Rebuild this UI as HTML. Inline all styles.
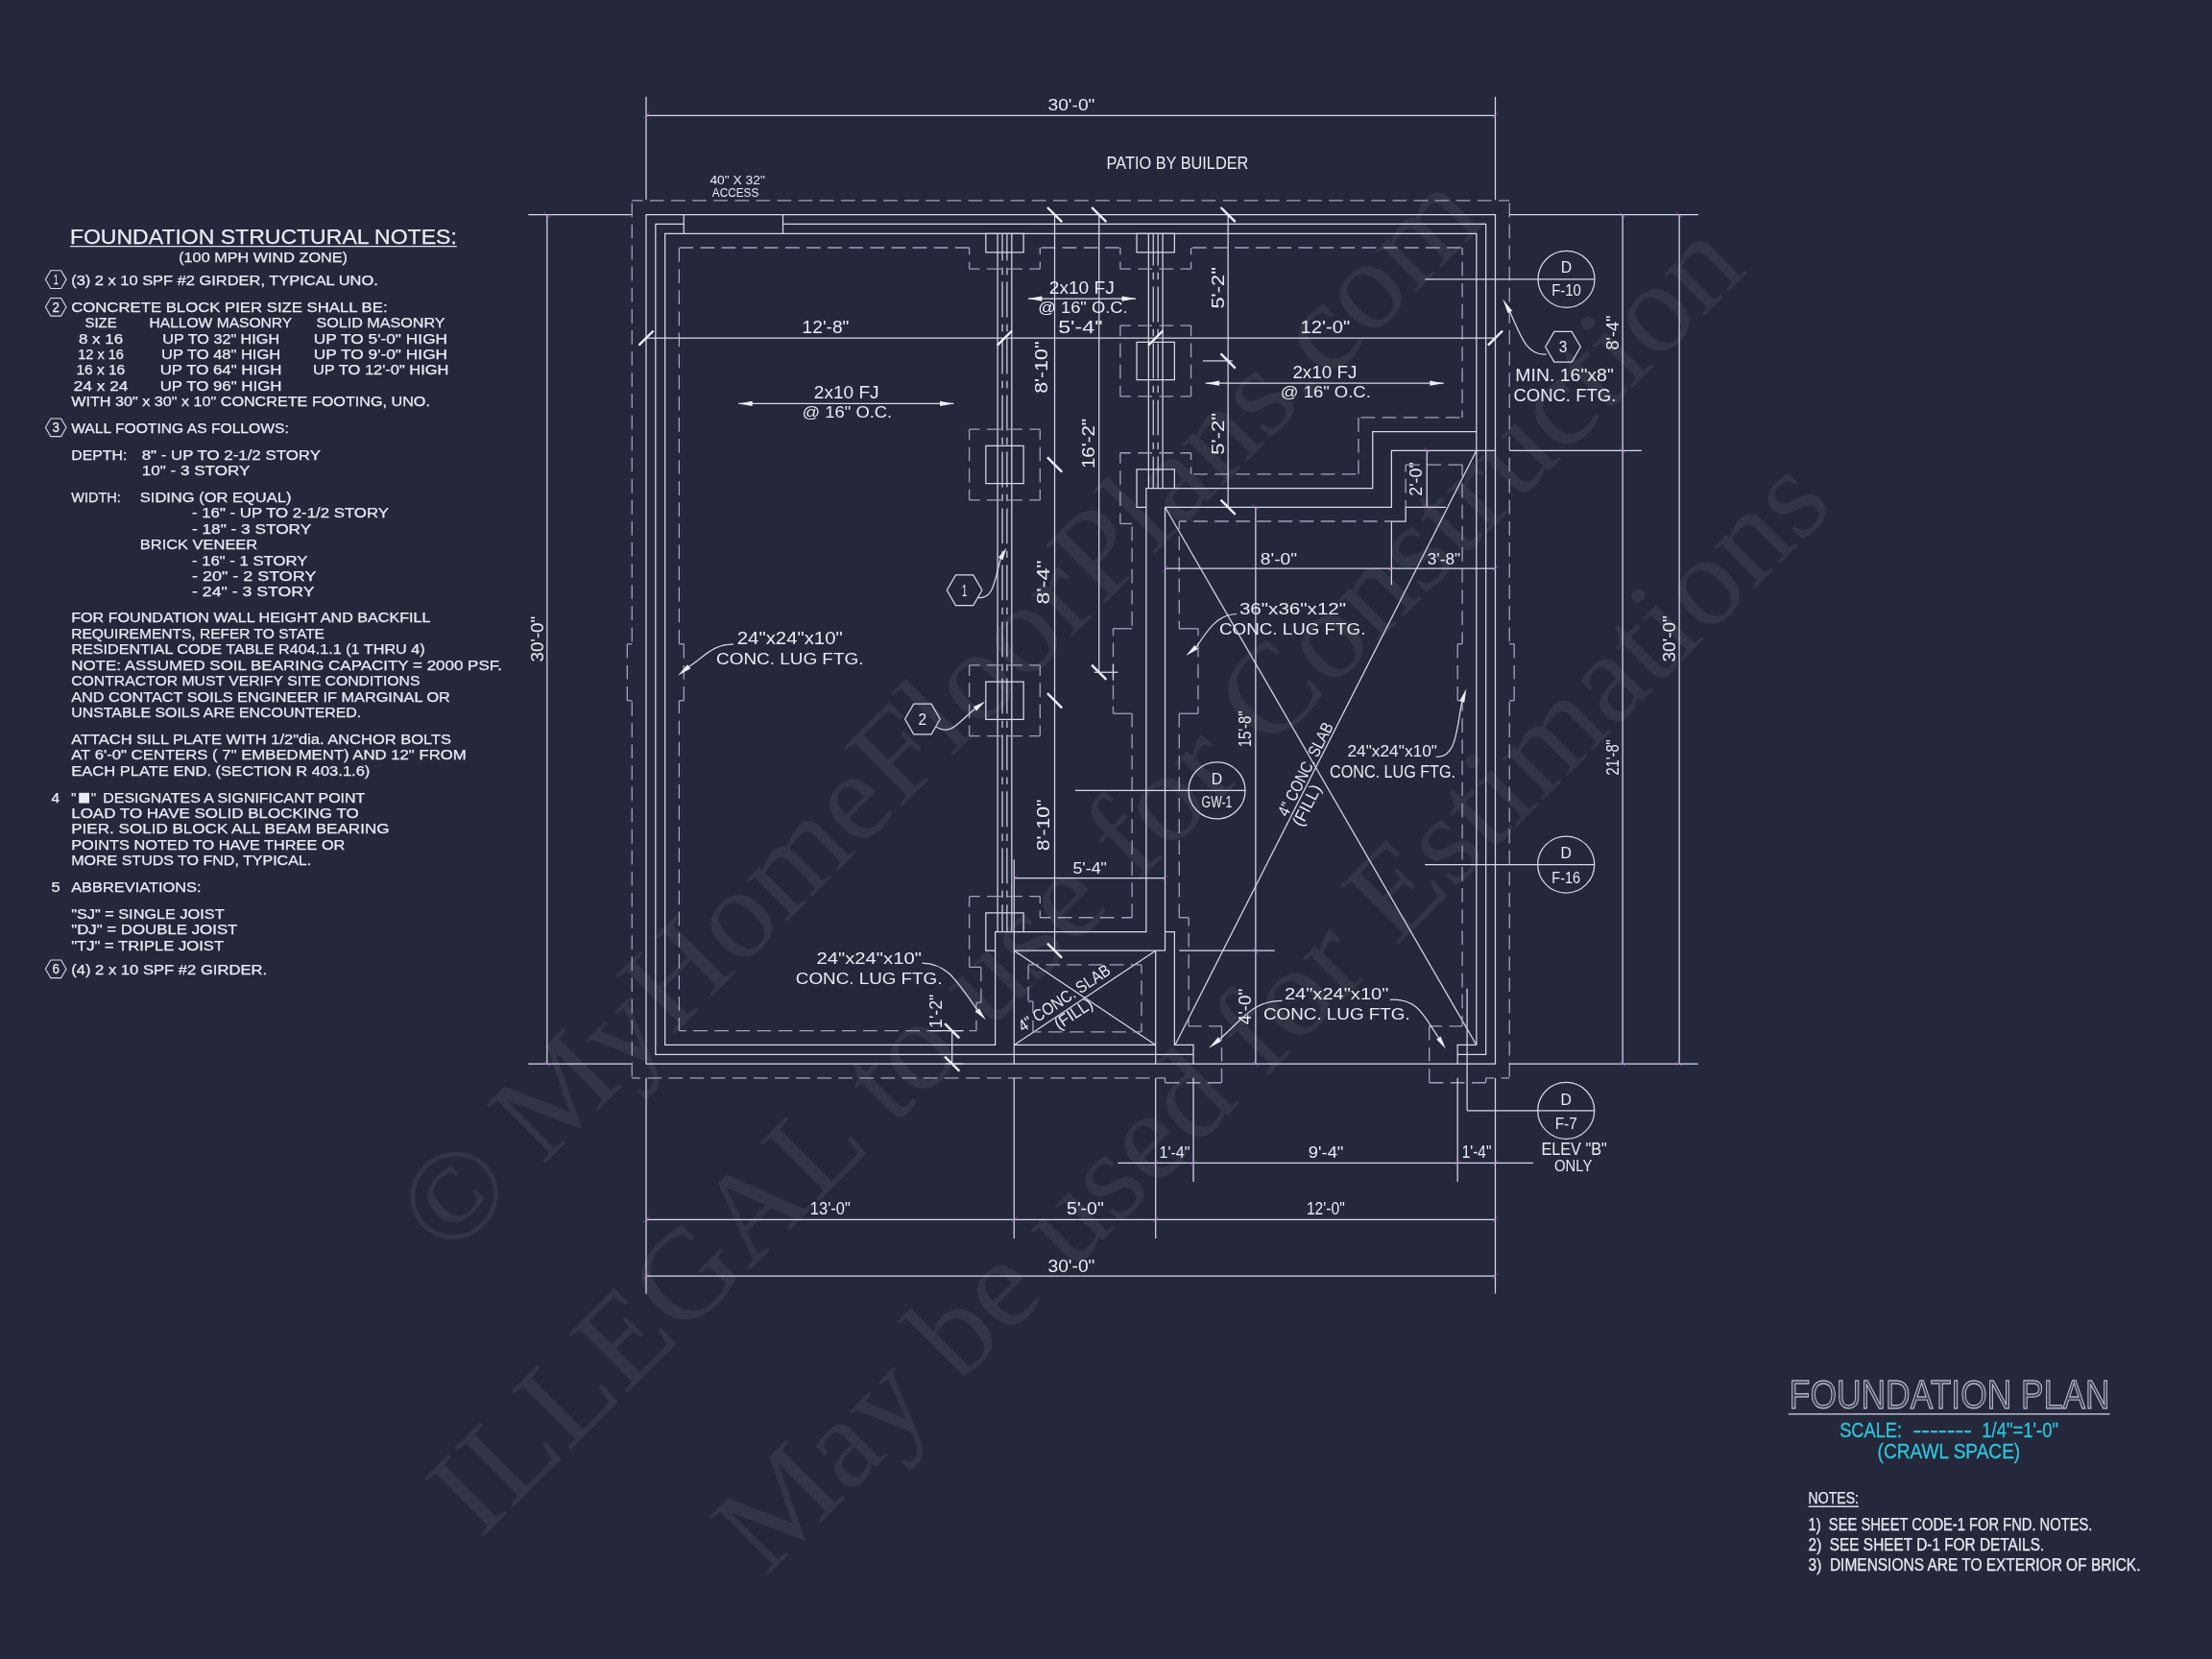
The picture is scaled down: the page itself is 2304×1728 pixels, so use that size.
<!DOCTYPE html>
<html><head><meta charset="utf-8"><title>Foundation Plan</title>
<style>
html,body{margin:0;padding:0;background:#24283a;}
body{width:2304px;height:1728px;overflow:hidden;font-family:"Liberation Sans",sans-serif;}
svg{display:block;will-change:transform}
svg text{font-family:"Liberation Sans",sans-serif;}
.s{fill:none;stroke:#d6d9ea;stroke-width:1.25}
.s2{fill:none;stroke:#d6d9ea;stroke-width:1.1}
.u{fill:none;stroke:#d6d9ea;stroke-width:1.4}
.d{fill:none;stroke:#9fa3ba;stroke-width:1.3;stroke-dasharray:14.7 7.4}
.ds{fill:none;stroke:#9fa3ba;stroke-width:1.3}
.c{fill:none;stroke:#d6d9ea;stroke-width:1.2;stroke-dasharray:36.86 7.37 7.37 7.37}
.c2{fill:none;stroke:#d6d9ea;stroke-width:1.2;stroke-dasharray:9 5 46 5 9 0}
.k{fill:none;stroke:#eef0f8;stroke-width:2.4}
.m{fill:none;stroke:#c23fc9;stroke-width:0.9;opacity:0.85}
.a{fill:#eef0f8;stroke:none}
.t{fill:#e9ebf5}
.n{fill:#e9ebf5;stroke:#e9ebf5;stroke-width:0.25}
.cy{fill:#2fc4dc;stroke:#2fc4dc;stroke-width:0.3}
.o{fill:rgba(214,217,234,0.18);stroke:#d6d9ea;stroke-width:0.9}
.w{fill:#323545;font-family:"Liberation Serif",serif;font-size:132px}
</style></head>
<body>
<svg width="2304" height="1728" viewBox="0 0 2304 1728">
<rect width="2304" height="1728" fill="#24283a"/>
<g><text class="w" transform="translate(1007.7 771.9) rotate(-45)" text-anchor="middle" textLength="1530.0" lengthAdjust="spacingAndGlyphs">© MyHomeFloorPlans.com</text>
<text class="w" transform="translate(1160.7 943.2) rotate(-45)" text-anchor="middle" textLength="1869.7" lengthAdjust="spacingAndGlyphs">ILLEGAL to use for Construction</text>
<text class="w" transform="translate(1354.5 1086.1) rotate(-45)" text-anchor="middle" textLength="1576.5" lengthAdjust="spacingAndGlyphs">May be used for Estimations</text></g>
<g>
<path class="s" d="M673.00 223.60 L1557.50 223.60 L1557.50 1108.10 L673.00 1108.10 Z"/>
<path class="s" d="M712.31 233.43 L682.83 233.43 L682.83 1098.27 L1243.01 1098.27"/>
<path class="s" d="M815.50 233.43 L1547.67 233.43 L1547.67 1098.27 L1518.19 1098.27"/>
<path class="s" d="M712.31 223.60 L712.31 243.26"/>
<path class="s" d="M815.50 223.60 L815.50 243.26"/>
<path class="s" d="M692.66 243.26 L1537.84 243.26 L1537.84 449.64 L1429.74 449.64 L1429.74 508.61 L1193.87 508.61 L1193.87 970.51 L1036.63 970.51 L1036.63 1088.44 L692.66 1088.44 Z"/>
<path class="s" d="M1537.84 449.64 L1537.84 1088.44"/>
<path class="s" d="M1557.50 469.29 L1449.39 469.29 L1449.39 528.26 L1213.53 528.26 L1213.53 990.17"/>
<path class="s" d="M1213.53 970.51 L1223.36 970.51 L1223.36 1088.44 L1243.01 1088.44 L1243.01 1108.10"/>
<path class="s" d="M1505.90 528.26 L1464.14 528.26 L1464.14 543.00 L1449.39 543.00 L1449.39 609.34"/>
<path class="s" d="M1537.84 1088.44 L1518.19 1088.44 L1518.19 1108.10"/>
<path class="s" d="M1213.53 528.26 L1537.84 1088.44"/>
<path class="s" d="M1537.84 469.29 L1224.34 1087.71"/>
<path class="s" d="M1056.28 895.33 L1056.28 1108.10"/>
<path class="s" d="M1056.28 990.17 L1213.53 990.17"/>
<path class="s" d="M1203.70 990.17 L1203.70 1108.10"/>
<path class="s" d="M1056.28 1088.44 L1203.70 1088.44"/>
<path class="s" d="M1056.28 990.17 L1203.70 1088.44"/>
<path class="s" d="M1056.28 1088.44 L1203.70 990.17"/>
<path class="s" d="M1039.08 243.26 L1039.08 970.51"/>
<path class="s" d="M1053.83 243.26 L1053.83 970.51"/>
<path class="c" stroke-dashoffset="8.62" d="M1044.00 243.26 L1044.00 970.51"/>
<path class="c" stroke-dashoffset="8.62" d="M1048.91 243.26 L1048.91 970.51"/>
<path class="s" d="M1196.33 243.26 L1196.33 508.61"/>
<path class="s" d="M1211.07 243.26 L1211.07 508.61"/>
<path class="c" stroke-dashoffset="3.70" d="M1201.24 243.26 L1201.24 508.61"/>
<path class="c" stroke-dashoffset="3.70" d="M1206.16 243.26 L1206.16 508.61"/>
<path class="s" d="M1026.80 243.26 L1066.11 243.26 L1066.11 262.91 L1026.80 262.91 Z"/>
<path class="s" d="M1184.04 243.26 L1223.36 243.26 L1223.36 262.91 L1184.04 262.91 Z"/>
<path class="s" d="M1026.80 464.38 L1066.11 464.38 L1066.11 503.69 L1026.80 503.69 Z"/>
<path class="s" d="M1026.80 710.07 L1066.11 710.07 L1066.11 749.39 L1026.80 749.39 Z"/>
<path class="s" d="M1184.04 356.27 L1223.36 356.27 L1223.36 395.59 L1184.04 395.59 Z"/>
<path class="s" d="M1066.11 970.51 L1066.11 950.86 L1026.80 950.86 L1026.80 990.17 L1036.63 990.17"/>
<path class="s" d="M1223.36 508.61 L1223.36 488.95 L1184.04 488.95 L1184.04 528.26 L1193.87 528.26"/>
<path class="d" stroke-dashoffset="3.65" d="M1009.60 447.18 L1083.31 447.18"/>
<path class="d" stroke-dashoffset="3.65" d="M1083.31 447.18 L1083.31 520.89"/>
<path class="d" stroke-dashoffset="3.65" d="M1083.31 520.89 L1009.60 520.89"/>
<path class="d" stroke-dashoffset="3.65" d="M1009.60 520.89 L1009.60 447.18"/>
<path class="d" stroke-dashoffset="3.65" d="M1009.60 692.88 L1083.31 692.88"/>
<path class="d" stroke-dashoffset="3.65" d="M1083.31 692.88 L1083.31 766.58"/>
<path class="d" stroke-dashoffset="3.65" d="M1083.31 766.58 L1009.60 766.58"/>
<path class="d" stroke-dashoffset="3.65" d="M1009.60 766.58 L1009.60 692.88"/>
<path class="d" stroke-dashoffset="3.65" d="M1166.85 339.08 L1240.55 339.08"/>
<path class="d" stroke-dashoffset="3.65" d="M1240.55 339.08 L1240.55 412.78"/>
<path class="d" stroke-dashoffset="3.65" d="M1240.55 412.78 L1166.85 412.78"/>
<path class="d" stroke-dashoffset="3.65" d="M1166.85 412.78 L1166.85 339.08"/>
<path class="d" stroke-dashoffset="-0.10" d="M707.40 258.00 L1009.60 258.00"/>
<path class="d" stroke-dashoffset="7.34" d="M1009.60 258.00 L1009.60 280.11"/>
<path class="d" stroke-dashoffset="3.65" d="M1009.60 280.11 L1083.31 280.11"/>
<path class="d" stroke-dashoffset="7.34" d="M1083.31 280.11 L1083.31 258.00"/>
<path class="d" stroke-dashoffset="-1.27" d="M1083.31 258.00 L1166.85 258.00"/>
<path class="d" stroke-dashoffset="7.34" d="M1166.85 258.00 L1166.85 280.11"/>
<path class="d" stroke-dashoffset="3.65" d="M1166.85 280.11 L1240.55 280.11"/>
<path class="d" stroke-dashoffset="7.34" d="M1240.55 280.11 L1240.55 258.00"/>
<path class="d" stroke-dashoffset="-1.32" d="M1240.55 258.00 L1523.10 258.00"/>
<path class="d" stroke-dashoffset="7.30" d="M1523.10 258.00 L1523.10 434.90"/>
<path class="d" stroke-dashoffset="-2.50" d="M1523.10 434.90 L1415.00 434.90"/>
<path class="d" stroke-dashoffset="-0.03" d="M1415.00 434.90 L1415.00 493.86"/>
<path class="d" stroke-dashoffset="-2.53" d="M1415.00 493.86 L1240.55 493.86"/>
<path class="d" stroke-dashoffset="7.34" d="M1240.55 493.86 L1240.55 471.75"/>
<path class="d" stroke-dashoffset="3.65" d="M1240.55 471.75 L1166.85 471.75"/>
<path class="d" stroke-dashoffset="3.64" d="M1166.85 471.75 L1166.85 545.46"/>
<path class="ds" d="M1166.85 545.46 L1179.13 545.46"/>
<path class="d" stroke-dashoffset="-3.11" d="M1179.13 545.46 L1179.13 654.79"/>
<path class="ds" d="M1179.13 654.79 L1159.47 654.79"/>
<path class="d" stroke-dashoffset="7.32" d="M1159.47 654.79 L1159.47 743.24"/>
<path class="ds" d="M1159.47 743.24 L1179.13 743.24"/>
<path class="d" stroke-dashoffset="0.54" d="M1179.13 743.24 L1179.13 955.77"/>
<path class="d" stroke-dashoffset="3.64" d="M1179.13 955.77 L1083.31 955.77"/>
<path class="d" stroke-dashoffset="7.34" d="M1083.31 955.77 L1083.31 933.66"/>
<path class="d" stroke-dashoffset="3.65" d="M1083.31 933.66 L1009.60 933.66"/>
<path class="d" stroke-dashoffset="3.64" d="M1009.60 933.66 L1009.60 1007.37"/>
<path class="ds" d="M1009.60 1007.37 L1021.89 1007.37"/>
<path class="d" stroke-dashoffset="-0.03" d="M1021.89 1007.37 L1021.89 1044.22"/>
<path class="ds" d="M1021.89 1044.22 L1016.97 1044.22"/>
<path class="d" stroke-dashoffset="3.66" d="M1016.97 1044.22 L1016.97 1073.70"/>
<path class="d" stroke-dashoffset="7.26" d="M1016.97 1073.70 L707.40 1073.70"/>
<path class="d" stroke-dashoffset="1.11" d="M707.40 1073.70 L707.40 729.73"/>
<path class="ds" d="M707.40 729.73 L712.31 729.73"/>
<path class="d" stroke-dashoffset="-0.04" d="M712.31 729.73 L712.31 670.76"/>
<path class="ds" d="M712.31 670.76 L707.40 670.76"/>
<path class="d" stroke-dashoffset="-0.13" d="M707.40 670.76 L707.40 258.00"/>
<path class="d" stroke-dashoffset="5.96" d="M1213.53 1122.84 L658.26 1122.84"/>
<path class="d" stroke-dashoffset="-1.35" d="M658.26 1122.84 L658.26 729.73"/>
<path class="ds" d="M658.26 729.73 L653.34 729.73"/>
<path class="d" stroke-dashoffset="-0.04" d="M653.34 729.73 L653.34 670.76"/>
<path class="ds" d="M653.34 670.76 L658.26 670.76"/>
<path class="d" stroke-dashoffset="-2.60" d="M658.26 670.76 L658.26 208.86"/>
<path class="d" stroke-dashoffset="3.41" d="M658.26 208.86 L1572.24 208.86"/>
<path class="d" stroke-dashoffset="-2.60" d="M1572.24 208.86 L1572.24 670.76"/>
<path class="ds" d="M1572.24 670.76 L1577.16 670.76"/>
<path class="d" stroke-dashoffset="-0.04" d="M1577.16 670.76 L1577.16 729.73"/>
<path class="ds" d="M1577.16 729.73 L1572.24 729.73"/>
<path class="d" stroke-dashoffset="-1.35" d="M1572.24 729.73 L1572.24 1122.84"/>
<path class="d" stroke-dashoffset="6.12" d="M1572.24 1122.84 L1547.67 1122.84"/>
<path class="ds" d="M1547.67 1122.84 L1547.67 1127.76"/>
<path class="d" stroke-dashoffset="-0.03" d="M1547.67 1127.76 L1488.71 1127.76"/>
<path class="d" stroke-dashoffset="-0.04" d="M1488.71 1127.76 L1488.71 1068.79"/>
<path class="d" stroke-dashoffset="1.21" d="M1488.71 1068.79 L1523.10 1068.79"/>
<path class="d" stroke-dashoffset="3.57" d="M1523.10 1068.79 L1523.10 729.73"/>
<path class="ds" d="M1523.10 729.73 L1518.19 729.73"/>
<path class="d" stroke-dashoffset="-0.04" d="M1518.19 729.73 L1518.19 670.76"/>
<path class="ds" d="M1518.19 670.76 L1523.10 670.76"/>
<path class="d" stroke-dashoffset="2.39" d="M1523.10 670.76 L1523.10 484.04"/>
<path class="d" stroke-dashoffset="-0.03" d="M1523.10 484.04 L1464.14 484.04"/>
<path class="d" stroke-dashoffset="7.34" d="M1464.14 484.04 L1464.14 528.26"/>
<path class="d" stroke-dashoffset="7.29" d="M1449.39 543.00 L1228.27 543.00"/>
<path class="d" stroke-dashoffset="6.71" d="M1228.27 543.00 L1228.27 654.79"/>
<path class="ds" d="M1228.27 654.79 L1247.92 654.79"/>
<path class="d" stroke-dashoffset="7.32" d="M1247.92 654.79 L1247.92 743.24"/>
<path class="ds" d="M1247.92 743.24 L1228.27 743.24"/>
<path class="d" stroke-dashoffset="0.54" d="M1228.27 743.24 L1228.27 955.77"/>
<path class="ds" d="M1228.27 955.77 L1238.10 955.77"/>
<path class="d" stroke-dashoffset="6.09" d="M1238.10 955.77 L1238.10 1068.79"/>
<path class="d" stroke-dashoffset="1.20" d="M1238.10 1068.79 L1272.49 1068.79"/>
<path class="d" stroke-dashoffset="-0.04" d="M1272.49 1068.79 L1272.49 1127.76"/>
<path class="d" stroke-dashoffset="-0.03" d="M1272.49 1127.76 L1213.53 1127.76"/>
<path class="ds" d="M1213.53 1127.76 L1213.53 1122.84"/>
<path class="d" stroke-dashoffset="3.63" d="M1071.03 1004.91 L1188.96 1004.91"/>
<path class="d" stroke-dashoffset="5.49" d="M1188.96 1004.91 L1188.96 1074.93"/>
<path class="d" stroke-dashoffset="6.09" d="M1188.96 1074.93 L1075.94 1074.93"/>
<path class="d" stroke-dashoffset="2.43" d="M1075.94 1074.93 L1075.94 1042.99"/>
<path class="ds" d="M1075.94 1042.99 L1071.03 1042.99"/>
<path class="d" stroke-dashoffset="-0.64" d="M1071.03 1042.99 L1071.03 1004.91"/>
<path class="s" d="M673.00 100.75 L673.00 208.37"/>
<path class="s" d="M1557.50 100.75 L1557.50 208.37"/>
<path class="s" d="M673.00 120.41 L1557.50 120.41"/>
<path class="m" d="M670.10 123.31 L675.90 117.51"/>
<path class="m" d="M1554.60 123.31 L1560.40 117.51"/>
<path class="s" d="M550.15 223.60 L657.52 223.60"/>
<path class="s" d="M550.15 1108.10 L657.52 1108.10"/>
<path class="s" d="M569.81 223.60 L569.81 1108.10"/>
<path class="m" d="M566.91 220.70 L572.71 226.50"/>
<path class="m" d="M566.91 1105.20 L572.71 1111.00"/>
<path class="s" d="M1572.24 223.60 L1768.80 223.60"/>
<path class="s" d="M1572.24 469.29 L1709.83 469.29"/>
<path class="s" d="M1572.24 1108.10 L1768.80 1108.10"/>
<path class="s" d="M1690.17 223.60 L1690.17 1108.10"/>
<path class="s" d="M1749.14 223.60 L1749.14 1108.10"/>
<path class="m" d="M1687.27 220.70 L1693.07 226.50"/>
<path class="m" d="M1746.24 220.70 L1752.04 226.50"/>
<path class="m" d="M1687.27 466.39 L1693.07 472.19"/>
<path class="m" d="M1687.27 1105.20 L1693.07 1111.00"/>
<path class="m" d="M1746.24 1105.20 L1752.04 1111.00"/>
<path class="s" d="M673.00 1122.84 L673.00 1347.41"/>
<path class="s" d="M1557.50 1122.84 L1557.50 1347.41"/>
<path class="s" d="M1056.28 1122.84 L1056.28 1289.91"/>
<path class="s" d="M1203.70 1122.84 L1203.70 1289.91"/>
<path class="s" d="M1243.01 1122.84 L1243.01 1230.95"/>
<path class="s" d="M1518.19 1122.84 L1518.19 1230.95"/>
<path class="s" d="M1164.39 1211.29 L1596.81 1211.29"/>
<path class="s" d="M673.00 1270.26 L1557.50 1270.26"/>
<path class="s" d="M673.00 1329.22 L1557.50 1329.22"/>
<path class="m" d="M1200.80 1214.19 L1206.60 1208.39"/>
<path class="m" d="M1240.11 1214.19 L1245.91 1208.39"/>
<path class="m" d="M1515.29 1214.19 L1521.09 1208.39"/>
<path class="m" d="M1554.60 1214.19 L1560.40 1208.39"/>
<path class="m" d="M670.10 1273.16 L675.90 1267.36"/>
<path class="m" d="M1053.38 1273.16 L1059.18 1267.36"/>
<path class="m" d="M1200.80 1273.16 L1206.60 1267.36"/>
<path class="m" d="M1554.60 1273.16 L1560.40 1267.36"/>
<path class="m" d="M670.10 1332.12 L675.90 1326.32"/>
<path class="m" d="M1554.60 1332.12 L1560.40 1326.32"/>
<path class="s" d="M673.00 352.10 L1557.50 352.10"/>
<path class="k" d="M665.40 359.70 L680.60 344.50"/>
<path class="k" d="M1038.86 359.70 L1054.06 344.50"/>
<path class="k" d="M1196.10 359.70 L1211.30 344.50"/>
<path class="k" d="M1549.90 359.70 L1565.10 344.50"/>
<path class="s" d="M1098.54 223.60 L1098.54 990.17"/>
<path class="k" d="M1090.94 216.00 L1106.14 231.20"/>
<path class="k" d="M1090.94 476.44 L1106.14 491.64"/>
<path class="k" d="M1090.94 722.13 L1106.14 737.33"/>
<path class="k" d="M1090.94 982.57 L1106.14 997.77"/>
<path class="s" d="M1144.73 223.60 L1144.73 700.25"/>
<path class="k" d="M1137.13 216.00 L1152.33 231.20"/>
<path class="k" d="M1137.13 692.65 L1152.33 707.85"/>
<path class="s" d="M1139.82 700.25 L1164.39 700.25"/>
<path class="s" d="M1159.47 691.65 L1159.47 708.85"/>
<path class="s" d="M1279.13 223.60 L1279.13 528.26"/>
<path class="k" d="M1271.53 216.00 L1286.73 231.20"/>
<path class="k" d="M1271.53 368.33 L1286.73 383.53"/>
<path class="k" d="M1271.53 520.66 L1286.73 535.86"/>
<path class="s" d="M1252.84 375.93 L1283.80 375.93"/>
<path class="s" d="M1213.53 592.14 L1557.50 592.14"/>
<path class="m" d="M1210.63 595.04 L1216.43 589.24"/>
<path class="m" d="M1446.49 595.04 L1452.29 589.24"/>
<path class="m" d="M1554.60 595.04 L1560.40 589.24"/>
<path class="s" d="M1307.87 528.26 L1307.87 1108.10"/>
<path class="m" d="M1304.97 525.36 L1310.77 531.16"/>
<path class="m" d="M1304.97 987.27 L1310.77 993.07"/>
<path class="m" d="M1304.97 1105.20 L1310.77 1111.00"/>
<path class="s" d="M1228.27 990.17 L1327.78 990.17"/>
<path class="s" d="M1486.25 469.29 L1486.25 528.26"/>
<path class="m" d="M1483.35 466.39 L1489.15 472.19"/>
<path class="m" d="M1483.35 525.36 L1489.15 531.16"/>
<path class="s" d="M1056.28 914.74 L1213.53 914.74"/>
<path class="m" d="M1053.38 917.64 L1059.18 911.84"/>
<path class="m" d="M1210.63 917.64 L1216.43 911.84"/>
<path class="s" d="M991.67 1073.70 L991.67 1108.10"/>
<path class="k" d="M984.07 1066.10 L999.27 1081.30"/>
<path class="k" d="M984.07 1100.50 L999.27 1115.70"/>
<path class="s" d="M968.57 1073.70 L1003.70 1073.70"/>
<path class="s" d="M985.03 1108.10 L1003.70 1108.10"/>
<text class="t" x="1091.5" y="115.3" font-size="17.15" textLength="48.9" lengthAdjust="spacingAndGlyphs">30'-0"</text>
<text class="t" x="1152.6" y="175.5" font-size="17.44" textLength="147.8" lengthAdjust="spacingAndGlyphs">PATIO BY BUILDER</text>
<text class="t" x="739.4" y="192.0" font-size="13.66" textLength="57.4" lengthAdjust="spacingAndGlyphs">40" X 32"</text>
<text class="t" x="741.8" y="205.3" font-size="13.66" textLength="48.5" lengthAdjust="spacingAndGlyphs">ACCESS</text>
<text class="t" x="835.6" y="347.2" font-size="17.44" textLength="48.8" lengthAdjust="spacingAndGlyphs">12'-8"</text>
<text class="t" x="1102.2" y="347.3" font-size="17.44" textLength="46.3" lengthAdjust="spacingAndGlyphs">5'-4"</text>
<text class="t" x="1354.6" y="347.2" font-size="17.44" textLength="51.6" lengthAdjust="spacingAndGlyphs">12'-0"</text>
<text class="t" x="847.8" y="415.0" font-size="17.73" textLength="67.8" lengthAdjust="spacingAndGlyphs">2x10 FJ</text>
<text class="t" x="835.6" y="435.3" font-size="16.57" textLength="93.6" lengthAdjust="spacingAndGlyphs">@ 16" O.C.</text>
<text class="t" x="1092.8" y="305.6" font-size="17.88" textLength="68.0" lengthAdjust="spacingAndGlyphs">2x10 FJ</text>
<text class="t" x="1081.3" y="325.9" font-size="16.86" textLength="93.3" lengthAdjust="spacingAndGlyphs">@ 16" O.C.</text>
<text class="t" x="1346.4" y="393.7" font-size="17.73" textLength="66.9" lengthAdjust="spacingAndGlyphs">2x10 FJ</text>
<text class="t" x="1333.8" y="414.0" font-size="16.86" textLength="94.0" lengthAdjust="spacingAndGlyphs">@ 16" O.C.</text>
<text class="t" x="1312.8" y="587.6" font-size="16.86" textLength="38.3" lengthAdjust="spacingAndGlyphs">8'-0"</text>
<text class="t" x="1486.8" y="587.6" font-size="16.86" textLength="34.3" lengthAdjust="spacingAndGlyphs">3'-8"</text>
<text class="t" x="1290.9" y="640.0" font-size="16.57" textLength="111.2" lengthAdjust="spacingAndGlyphs">36"x36"x12"</text>
<text class="t" x="1270.0" y="660.9" font-size="16.57" textLength="152.4" lengthAdjust="spacingAndGlyphs">CONC. LUG FTG.</text>
<text class="t" x="767.8" y="671.2" font-size="17.73" textLength="109.9" lengthAdjust="spacingAndGlyphs">24"x24"x10"</text>
<text class="t" x="746.1" y="692.1" font-size="17.30" textLength="153.3" lengthAdjust="spacingAndGlyphs">CONC. LUG FTG.</text>
<text class="t" x="1403.4" y="788.4" font-size="16.57" textLength="93.6" lengthAdjust="spacingAndGlyphs">24"x24"x10"</text>
<text class="t" x="1385.0" y="809.5" font-size="17.73" textLength="131.0" lengthAdjust="spacingAndGlyphs">CONC. LUG FTG.</text>
<text class="t" x="850.5" y="1003.9" font-size="17.01" textLength="109.4" lengthAdjust="spacingAndGlyphs">24"x24"x10"</text>
<text class="t" x="828.8" y="1024.8" font-size="16.57" textLength="152.7" lengthAdjust="spacingAndGlyphs">CONC. LUG FTG.</text>
<text class="t" x="1337.9" y="1041.3" font-size="16.86" textLength="108.5" lengthAdjust="spacingAndGlyphs">24"x24"x10"</text>
<text class="t" x="1315.9" y="1062.2" font-size="16.72" textLength="152.9" lengthAdjust="spacingAndGlyphs">CONC. LUG FTG.</text>
<text class="t" x="1117.4" y="909.8" font-size="16.86" textLength="35.5" lengthAdjust="spacingAndGlyphs">5'-4"</text>
<text class="t" x="1578.3" y="397.0" font-size="17.73" textLength="102.5" lengthAdjust="spacingAndGlyphs">MIN. 16"x8"</text>
<text class="t" x="1576.4" y="417.9" font-size="17.44" textLength="106.9" lengthAdjust="spacingAndGlyphs">CONC. FTG.</text>
<text class="t" x="1605.4" y="1203.4" font-size="17.73" textLength="68.4" lengthAdjust="spacingAndGlyphs">ELEV "B"</text>
<text class="t" x="1619.0" y="1220.2" font-size="17.30" textLength="39.3" lengthAdjust="spacingAndGlyphs">ONLY</text>
<text class="t" x="1207.6" y="1206.0" font-size="17.01" textLength="31.8" lengthAdjust="spacingAndGlyphs">1'-4"</text>
<text class="t" x="1362.8" y="1206.0" font-size="17.01" textLength="36.6" lengthAdjust="spacingAndGlyphs">9'-4"</text>
<text class="t" x="1522.7" y="1206.1" font-size="17.73" textLength="30.7" lengthAdjust="spacingAndGlyphs">1'-4"</text>
<text class="t" x="843.8" y="1264.8" font-size="17.73" textLength="42.0" lengthAdjust="spacingAndGlyphs">13'-0"</text>
<text class="t" x="1111.1" y="1264.8" font-size="17.44" textLength="38.7" lengthAdjust="spacingAndGlyphs">5'-0"</text>
<text class="t" x="1360.9" y="1264.8" font-size="17.44" textLength="39.8" lengthAdjust="spacingAndGlyphs">12'-0"</text>
<text class="t" x="1091.5" y="1324.5" font-size="17.73" textLength="48.9" lengthAdjust="spacingAndGlyphs">30'-0"</text>
<text class="t" transform="translate(565.8 689.4) rotate(-90)" font-size="17.73" textLength="47.5" lengthAdjust="spacingAndGlyphs">30'-0"</text>
<text class="t" transform="translate(1091.0 409.8) rotate(-90)" font-size="17.73" textLength="54.3" lengthAdjust="spacingAndGlyphs">8'-10"</text>
<text class="t" transform="translate(1092.5 629.5) rotate(-90)" font-size="17.73" textLength="46.0" lengthAdjust="spacingAndGlyphs">8'-4"</text>
<text class="t" transform="translate(1092.5 886.3) rotate(-90)" font-size="17.73" textLength="53.7" lengthAdjust="spacingAndGlyphs">8'-10"</text>
<text class="t" transform="translate(1140.2 488.0) rotate(-90)" font-size="18.31" textLength="52.1" lengthAdjust="spacingAndGlyphs">16'-2"</text>
<text class="t" transform="translate(1275.0 321.5) rotate(-90)" font-size="17.73" textLength="43.4" lengthAdjust="spacingAndGlyphs">5'-2"</text>
<text class="t" transform="translate(1274.5 473.7) rotate(-90)" font-size="17.44" textLength="43.8" lengthAdjust="spacingAndGlyphs">5'-2"</text>
<text class="t" transform="translate(1481.3 516.7) rotate(-90)" font-size="17.73" textLength="35.4" lengthAdjust="spacingAndGlyphs">2'-0"</text>
<text class="t" transform="translate(1303.0 778.3) rotate(-90)" font-size="18.31" textLength="37.9" lengthAdjust="spacingAndGlyphs">15'-8"</text>
<text class="t" transform="translate(1303.0 1067.3) rotate(-90)" font-size="17.73" textLength="37.6" lengthAdjust="spacingAndGlyphs">4'-0"</text>
<text class="t" transform="translate(981.3 1070.9) rotate(-90)" font-size="17.73" textLength="35.3" lengthAdjust="spacingAndGlyphs">1'-2"</text>
<text class="t" transform="translate(1685.5 364.4) rotate(-90)" font-size="18.17" textLength="35.8" lengthAdjust="spacingAndGlyphs">8'-4"</text>
<text class="t" transform="translate(1686.3 807.5) rotate(-90)" font-size="18.90" textLength="37.2" lengthAdjust="spacingAndGlyphs">21'-8"</text>
<text class="t" transform="translate(1745.1 689.5) rotate(-90)" font-size="18.17" textLength="48.3" lengthAdjust="spacingAndGlyphs">30'-0"</text>
<text class="t" transform="translate(1340.8 851.6) rotate(-63.1)" font-size="17.44" textLength="107.0" lengthAdjust="spacingAndGlyphs">4" CONC. SLAB</text>
<text class="t" transform="translate(1356.0 862.0) rotate(-63.1)" font-size="17.44" textLength="46.0" lengthAdjust="spacingAndGlyphs">(FILL)</text>
<text class="t" transform="translate(1065.4 1075.4) rotate(-33.7)" font-size="17.44" textLength="111.3" lengthAdjust="spacingAndGlyphs">4" CONC. SLAB</text>
<text class="t" transform="translate(1103.0 1073.0) rotate(-33.7)" font-size="17.44" textLength="44.0" lengthAdjust="spacingAndGlyphs">(FILL)</text>
<path class="s" d="M769.20 420.40 L993.50 420.40"/>
<path class="a" d="M769.20 420.40 L783.70 417.80 L783.70 423.00 Z"/>
<path class="a" d="M993.50 420.40 L979.00 423.00 L979.00 417.80 Z"/>
<path class="s" d="M1070.90 311.10 L1183.00 311.10"/>
<path class="a" d="M1070.90 311.10 L1085.40 308.50 L1085.40 313.70 Z"/>
<path class="a" d="M1183.00 311.10 L1168.50 313.70 L1168.50 308.50 Z"/>
<path class="s" d="M1255.60 399.20 L1503.80 399.20"/>
<path class="a" d="M1255.60 399.20 L1270.10 396.60 L1270.10 401.80 Z"/>
<path class="a" d="M1503.80 399.20 L1489.30 401.80 L1489.30 396.60 Z"/>
<circle class="s" cx="1631.5" cy="290.8" r="29.5"/>
<path class="s" d="M1484.30 290.80 L1661.00 290.80"/>
<text class="t" x="1625.7" y="283.6" font-size="16.28" textLength="11.4" lengthAdjust="spacingAndGlyphs">D</text>
<text class="t" x="1616.2" y="308.4" font-size="16.28" textLength="30.7" lengthAdjust="spacingAndGlyphs">F-10</text>
<circle class="s" cx="1267.5" cy="823.4" r="29.5"/>
<path class="s" d="M1120.00 823.40 L1297.00 823.40"/>
<text class="t" x="1261.7" y="816.5" font-size="16.28" textLength="11.4" lengthAdjust="spacingAndGlyphs">D</text>
<text class="t" x="1251.6" y="841.1" font-size="16.28" textLength="31.8" lengthAdjust="spacingAndGlyphs">GW-1</text>
<circle class="s" cx="1631.2" cy="900.5" r="29.5"/>
<path class="s" d="M1484.20 900.50 L1660.70 900.50"/>
<text class="t" x="1625.4" y="894.3" font-size="16.28" textLength="11.4" lengthAdjust="spacingAndGlyphs">D</text>
<text class="t" x="1616.3" y="919.5" font-size="16.28" textLength="29.8" lengthAdjust="spacingAndGlyphs">F-16</text>
<circle class="s" cx="1631.2" cy="1156.8" r="29.5"/>
<path class="s" d="M1528.10 1156.80 L1660.70 1156.80"/>
<text class="t" x="1625.4" y="1150.5" font-size="16.28" textLength="11.4" lengthAdjust="spacingAndGlyphs">D</text>
<text class="t" x="1619.7" y="1175.8" font-size="16.28" textLength="23.1" lengthAdjust="spacingAndGlyphs">F-7</text>
<path class="s" d="M1528.10 1029.70 L1528.10 1156.80"/>
<path class="s" d="M1022.90 614.70 L1013.75 630.55 L995.45 630.55 L986.30 614.70 L995.45 598.85 L1013.75 598.85 Z"/>
<text class="t" x="1002.0" y="620.6" font-size="17.15" textLength="5.2" lengthAdjust="spacingAndGlyphs">1</text>
<path class="s" d="M979.20 749.00 L970.05 764.85 L951.75 764.85 L942.60 749.00 L951.75 733.15 L970.05 733.15 Z"/>
<text class="t" x="956.6" y="754.9" font-size="17.15" textLength="8.6" lengthAdjust="spacingAndGlyphs">2</text>
<path class="s" d="M1646.30 361.20 L1637.15 377.05 L1618.85 377.05 L1609.70 361.20 L1618.85 345.35 L1637.15 345.35 Z"/>
<text class="t" x="1623.7" y="367.1" font-size="17.15" textLength="8.6" lengthAdjust="spacingAndGlyphs">3</text>
<path class="s" d="M764 671.2 C742 671 734 684 717.7 694.3 L717.7 694.3"/>
<path class="a" d="M706.00 703.80 L716.06 692.28 L719.34 696.32 Z"/>
<path class="s" d="M1019 622.5 C1035 624.5 1036 604 1042.2 582 L1042.2 582.0"/>
<path class="a" d="M1048.30 570.50 L1044.50 583.22 L1039.90 580.78 Z"/>
<path class="s" d="M975.3 757.2 C991 767 999 751 1015.4 738.4 L1015.4 738.4"/>
<path class="a" d="M1026.30 730.40 L1016.94 740.50 L1013.86 736.30 Z"/>
<path class="s" d="M960.4 1003 C986 1003 997 1022 1017.9 1051.9 L1017.9 1051.9"/>
<path class="a" d="M1026.80 1062.20 L1015.93 1053.60 L1019.87 1050.20 Z"/>
<path class="s" d="M1288.2 639.5 C1268 640 1258 656 1246.1 673.9 L1246.1 673.9"/>
<path class="a" d="M1235.30 682.90 L1244.44 671.90 L1247.76 675.90 Z"/>
<path class="s" d="M1495.7 788.4 C1517 790 1517 760 1522.8 730.9 L1522.8 730.9"/>
<path class="a" d="M1527.40 717.30 L1525.26 731.73 L1520.34 730.07 Z"/>
<path class="s" d="M1335.6 1042.4 C1305 1042 1294 1062 1270.5 1082.3 L1270.5 1082.3"/>
<path class="a" d="M1259.20 1091.80 L1268.83 1080.31 L1272.17 1084.29 Z"/>
<path class="s" d="M1447.8 1041.3 C1476 1040 1482 1056 1498.4 1081 L1498.4 1081.0"/>
<path class="a" d="M1505.70 1092.20 L1496.22 1082.42 L1500.58 1079.58 Z"/>
<path class="s" d="M1610.9 369 C1590 371 1584 350 1572.9 325 L1572.9 325.0"/>
<path class="a" d="M1565.30 311.50 L1575.17 323.72 L1570.63 326.28 Z"/>
<text class="n" x="72.9" y="254.2" font-size="21.80" textLength="402.9" lengthAdjust="spacingAndGlyphs">FOUNDATION STRUCTURAL NOTES:</text>
<path class="u" d="M72.90 256.60 L475.80 256.60"/>
<text class="n" x="186.2" y="272.9" font-size="15.12" textLength="175.8" lengthAdjust="spacingAndGlyphs">(100 MPH WIND ZONE)</text>
<text class="n" x="74.2" y="296.9" font-size="14.83" textLength="319.6" lengthAdjust="spacingAndGlyphs">(3) 2 x 10 SPF #2 GIRDER, TYPICAL UNO.</text>
<text class="n" x="74.2" y="325.0" font-size="14.83" textLength="329.4" lengthAdjust="spacingAndGlyphs">CONCRETE BLOCK PIER SIZE SHALL BE:</text>
<text class="n" x="88.5" y="341.4" font-size="14.83" textLength="33.1" lengthAdjust="spacingAndGlyphs">SIZE</text>
<text class="n" x="155.5" y="341.4" font-size="14.83" textLength="148.7" lengthAdjust="spacingAndGlyphs">HALLOW MASONRY</text>
<text class="n" x="329.4" y="341.4" font-size="14.83" textLength="134.1" lengthAdjust="spacingAndGlyphs">SOLID MASONRY</text>
<text class="n" x="82.0" y="357.6" font-size="14.83" textLength="46.1" lengthAdjust="spacingAndGlyphs">8 x 16</text>
<text class="n" x="169.3" y="357.6" font-size="14.83" textLength="121.8" lengthAdjust="spacingAndGlyphs">UP TO 32" HIGH</text>
<text class="n" x="326.8" y="357.6" font-size="14.83" textLength="139.3" lengthAdjust="spacingAndGlyphs">UP TO 5'-0" HIGH</text>
<text class="n" x="81.3" y="374.0" font-size="14.83" textLength="47.6" lengthAdjust="spacingAndGlyphs">12 x 16</text>
<text class="n" x="168.0" y="374.0" font-size="14.83" textLength="124.2" lengthAdjust="spacingAndGlyphs">UP TO 48" HIGH</text>
<text class="n" x="326.8" y="374.0" font-size="14.83" textLength="139.3" lengthAdjust="spacingAndGlyphs">UP TO 9'-0" HIGH</text>
<text class="n" x="79.4" y="390.1" font-size="14.83" textLength="50.8" lengthAdjust="spacingAndGlyphs">16 x 16</text>
<text class="n" x="166.7" y="390.1" font-size="14.83" textLength="126.8" lengthAdjust="spacingAndGlyphs">UP TO 64" HIGH</text>
<text class="n" x="326.0" y="390.1" font-size="14.83" textLength="141.4" lengthAdjust="spacingAndGlyphs">UP TO 12'-0" HIGH</text>
<text class="n" x="76.8" y="406.5" font-size="14.83" textLength="56.5" lengthAdjust="spacingAndGlyphs">24 x 24</text>
<text class="n" x="166.7" y="406.5" font-size="14.83" textLength="126.8" lengthAdjust="spacingAndGlyphs">UP TO 96" HIGH</text>
<text class="n" x="74.2" y="422.7" font-size="14.83" textLength="373.7" lengthAdjust="spacingAndGlyphs">WITH 30" x 30" x 10" CONCRETE FOOTING, UNO.</text>
<text class="n" x="74.2" y="450.5" font-size="14.83" textLength="226.6" lengthAdjust="spacingAndGlyphs">WALL FOOTING AS FOLLOWS:</text>
<text class="n" x="74.2" y="478.6" font-size="14.83" textLength="58.1" lengthAdjust="spacingAndGlyphs">DEPTH:</text>
<text class="n" x="147.7" y="478.6" font-size="14.83" textLength="186.2" lengthAdjust="spacingAndGlyphs">8" - UP TO 2-1/2 STORY</text>
<text class="n" x="147.7" y="495.0" font-size="14.83" textLength="112.7" lengthAdjust="spacingAndGlyphs">10" - 3 STORY</text>
<text class="n" x="74.2" y="522.9" font-size="14.83" textLength="51.6" lengthAdjust="spacingAndGlyphs">WIDTH:</text>
<text class="n" x="145.8" y="522.9" font-size="14.83" textLength="157.6" lengthAdjust="spacingAndGlyphs">SIDING (OR EQUAL)</text>
<text class="n" x="200.0" y="539.3" font-size="14.83" textLength="204.9" lengthAdjust="spacingAndGlyphs">- 16" - UP TO 2-1/2 STORY</text>
<text class="n" x="200.0" y="555.7" font-size="14.83" textLength="124.2" lengthAdjust="spacingAndGlyphs">- 18" - 3 STORY</text>
<text class="n" x="145.8" y="571.9" font-size="14.83" textLength="122.4" lengthAdjust="spacingAndGlyphs">BRICK VENEER</text>
<text class="n" x="200.0" y="588.5" font-size="14.83" textLength="120.3" lengthAdjust="spacingAndGlyphs">- 16" - 1 STORY</text>
<text class="n" x="200.0" y="604.9" font-size="14.83" textLength="129.4" lengthAdjust="spacingAndGlyphs">- 20" - 2 STORY</text>
<text class="n" x="200.0" y="621.4" font-size="14.83" textLength="127.6" lengthAdjust="spacingAndGlyphs">- 24" - 3 STORY</text>
<text class="n" x="74.2" y="648.1" font-size="14.83" textLength="374.2" lengthAdjust="spacingAndGlyphs">FOR FOUNDATION WALL HEIGHT AND BACKFILL</text>
<text class="n" x="74.2" y="664.8" font-size="14.83" textLength="263.8" lengthAdjust="spacingAndGlyphs">REQUIREMENTS, REFER TO STATE</text>
<text class="n" x="74.2" y="681.2" font-size="14.83" textLength="368.5" lengthAdjust="spacingAndGlyphs">RESIDENTIAL CODE TABLE R404.1.1 (1 THRU 4)</text>
<text class="n" x="74.2" y="697.6" font-size="14.83" textLength="448.7" lengthAdjust="spacingAndGlyphs">NOTE: ASSUMED SOIL BEARING CAPACITY = 2000 PSF.</text>
<text class="n" x="74.2" y="714.3" font-size="14.83" textLength="363.3" lengthAdjust="spacingAndGlyphs">CONTRACTOR MUST VERIFY SITE CONDITIONS</text>
<text class="n" x="74.2" y="730.7" font-size="14.83" textLength="394.6" lengthAdjust="spacingAndGlyphs">AND CONTACT SOILS ENGINEER IF MARGINAL OR</text>
<text class="n" x="74.2" y="747.1" font-size="14.83" textLength="302.1" lengthAdjust="spacingAndGlyphs">UNSTABLE SOILS ARE ENCOUNTERED.</text>
<text class="n" x="74.2" y="774.9" font-size="14.83" textLength="395.8" lengthAdjust="spacingAndGlyphs">ATTACH SILL PLATE WITH 1/2"dia. ANCHOR BOLTS</text>
<text class="n" x="74.2" y="791.4" font-size="14.83" textLength="411.5" lengthAdjust="spacingAndGlyphs">AT 6'-0" CENTERS ( 7" EMBEDMENT) AND 12" FROM</text>
<text class="n" x="74.2" y="807.5" font-size="14.83" textLength="311.2" lengthAdjust="spacingAndGlyphs">EACH PLATE END. (SECTION R 403.1.6)</text>
<text class="n" x="53.4" y="835.6" font-size="14.83" textLength="8.6" lengthAdjust="spacingAndGlyphs">4</text>
<text class="n" x="74.2" y="835.6" font-size="14.83" textLength="5.0" lengthAdjust="spacingAndGlyphs">"</text>
<text class="n" x="95.0" y="835.6" font-size="14.83" textLength="5.0" lengthAdjust="spacingAndGlyphs">"</text>
<text class="n" x="107.3" y="835.6" font-size="14.83" textLength="272.9" lengthAdjust="spacingAndGlyphs">DESIGNATES A SIGNIFICANT POINT</text>
<text class="n" x="74.2" y="851.8" font-size="14.83" textLength="299.5" lengthAdjust="spacingAndGlyphs">LOAD TO HAVE SOLID BLOCKING TO</text>
<text class="n" x="74.2" y="868.2" font-size="14.83" textLength="331.3" lengthAdjust="spacingAndGlyphs">PIER. SOLID BLOCK ALL BEAM BEARING</text>
<text class="n" x="74.2" y="884.8" font-size="14.83" textLength="285.2" lengthAdjust="spacingAndGlyphs">POINTS NOTED TO HAVE THREE OR</text>
<text class="n" x="74.2" y="901.3" font-size="14.83" textLength="250.0" lengthAdjust="spacingAndGlyphs">MORE STUDS TO FND, TYPICAL.</text>
<text class="n" x="53.4" y="929.1" font-size="14.83" textLength="9.1" lengthAdjust="spacingAndGlyphs">5</text>
<text class="n" x="74.2" y="929.1" font-size="14.83" textLength="135.4" lengthAdjust="spacingAndGlyphs">ABBREVIATIONS:</text>
<text class="n" x="74.2" y="957.2" font-size="14.83" textLength="159.4" lengthAdjust="spacingAndGlyphs">"SJ" = SINGLE JOIST</text>
<text class="n" x="74.2" y="973.4" font-size="14.83" textLength="173.2" lengthAdjust="spacingAndGlyphs">"DJ" = DOUBLE JOIST</text>
<text class="n" x="74.2" y="989.8" font-size="14.83" textLength="158.9" lengthAdjust="spacingAndGlyphs">"TJ" = TRIPLE JOIST</text>
<text class="n" x="74.2" y="1015.1" font-size="14.83" textLength="203.9" lengthAdjust="spacingAndGlyphs">(4) 2 x 10 SPF #2 GIRDER.</text>
<rect x="82.2" y="825.8" width="10.8" height="10.8" fill="#e9ebf5"/>
<path class="s2" d="M69.00 291.10 L63.60 300.45 L52.80 300.45 L47.40 291.10 L52.80 281.75 L63.60 281.75 Z"/>
<text class="n" x="55.9" y="296.1" font-size="14.83" textLength="4.6" lengthAdjust="spacingAndGlyphs">1</text>
<path class="s2" d="M69.00 319.80 L63.60 329.15 L52.80 329.15 L47.40 319.80 L52.80 310.45 L63.60 310.45 Z"/>
<text class="n" x="54.5" y="324.8" font-size="14.83" textLength="7.4" lengthAdjust="spacingAndGlyphs">2</text>
<path class="s2" d="M69.00 445.30 L63.60 454.65 L52.80 454.65 L47.40 445.30 L52.80 435.95 L63.60 435.95 Z"/>
<text class="n" x="54.5" y="450.3" font-size="14.83" textLength="7.4" lengthAdjust="spacingAndGlyphs">3</text>
<path class="s2" d="M69.00 1009.30 L63.60 1018.65 L52.80 1018.65 L47.40 1009.30 L52.80 999.95 L63.60 999.95 Z"/>
<text class="n" x="54.5" y="1014.3" font-size="14.83" textLength="7.4" lengthAdjust="spacingAndGlyphs">6</text>
<text class="o" x="1863.8" y="1467.2" font-size="43.02" textLength="333.8" lengthAdjust="spacingAndGlyphs">FOUNDATION PLAN</text>
<path class="u" d="M1862.70 1472.90 L2197.60 1472.90"/>
<text class="cy" x="1916.2" y="1496.8" font-size="21.51" textLength="64.9" lengthAdjust="spacingAndGlyphs">SCALE:</text>
<text class="cy" x="1992.5" y="1496.8" font-size="21.51" textLength="61.5" lengthAdjust="spacingAndGlyphs">-------</text>
<text class="cy" x="2064.3" y="1496.8" font-size="21.51" textLength="79.7" lengthAdjust="spacingAndGlyphs">1/4"=1'-0"</text>
<text class="cy" x="1955.6" y="1518.5" font-size="21.51" textLength="148.6" lengthAdjust="spacingAndGlyphs">(CRAWL SPACE)</text>
<text class="n" x="1883.6" y="1566.3" font-size="16.57" textLength="52.4" lengthAdjust="spacingAndGlyphs">NOTES:</text>
<path class="u" d="M1883.60 1569.20 L1936.00 1569.20"/>
<text class="n" x="1883.6" y="1594.4" font-size="17.44" textLength="295.8" lengthAdjust="spacingAndGlyphs" xml:space="preserve">1)  SEE SHEET CODE-1 FOR FND. NOTES.</text>
<text class="n" x="1883.6" y="1615.3" font-size="17.44" textLength="245.6" lengthAdjust="spacingAndGlyphs" xml:space="preserve">2)  SEE SHEET D-1 FOR DETAILS.</text>
<text class="n" x="1883.6" y="1636.3" font-size="17.44" textLength="345.9" lengthAdjust="spacingAndGlyphs" xml:space="preserve">3)  DIMENSIONS ARE TO EXTERIOR OF BRICK.</text>
</g>
</svg>
</body></html>
